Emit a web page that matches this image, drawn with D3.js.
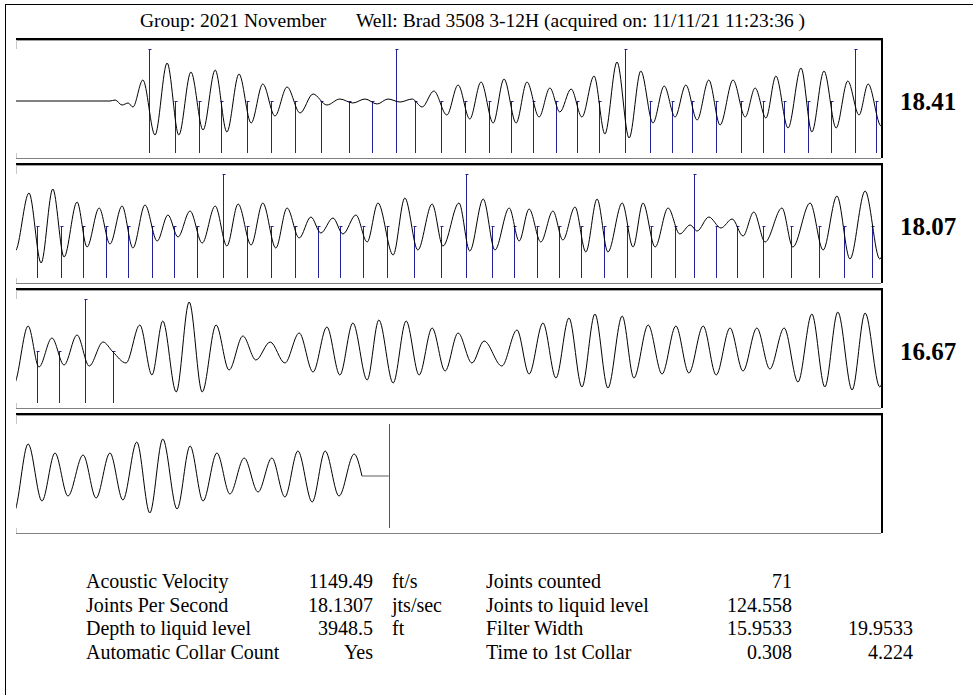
<!DOCTYPE html>
<html>
<head>
<meta charset="utf-8">
<script src="https://cdn.jsdelivr.net/npm/d3@7"></script>
<style>
  html, body { margin: 0; padding: 0; background: #fff; }
  svg { display: block; }
  text { font-family: "Liberation Serif", "Times New Roman", serif; fill: #000; }
</style>
</head>
<body>
<svg id="chart" width="973" height="695"></svg>
<script>
// ---------------- DATA ----------------
const titleGroup = "Group: 2021 November";
const titleWell = "Well: Brad 3508 3-12H (acquired on: 11/11/21 11:23:36 )";

// joints-per-second shown next to each 2-second panel
const panelRates = ["18.41", "18.07", "16.67", ""];
const panelStarts = [0, 2, 4, 6];          // seconds
const panelSpan = 2;                        // seconds per panel

// acoustic trace: extrema (time in s, amplitude in arbitrary units)
const waveT = [
  0.000, 0.217, 0.229, 0.245, 0.259, 0.270, 0.293, 0.321, 0.349, 0.376, 0.404, 0.432, 0.460, 0.487,
  0.515, 0.543, 0.570, 0.598, 0.626, 0.656, 0.686, 0.718, 0.748, 0.778, 0.806, 0.834, 0.859, 0.887,
  0.915, 0.938, 0.965, 0.995, 1.021, 1.048, 1.074, 1.102, 1.127, 1.155, 1.180, 1.208, 1.233, 1.256,
  1.282, 1.307, 1.335, 1.360, 1.388, 1.416, 1.443, 1.471, 1.497, 1.522, 1.547, 1.573, 1.600, 1.626,
  1.656, 1.684, 1.707, 1.732, 1.755, 1.783, 1.813, 1.838, 1.866, 1.894, 1.921, 1.947, 1.968, 1.998,
  2.030, 2.058, 2.085, 2.111, 2.141, 2.164, 2.192, 2.217, 2.245, 2.270, 2.298, 2.326, 2.351, 2.374,
  2.402, 2.430, 2.460, 2.487, 2.513, 2.543, 2.570, 2.600, 2.626, 2.654, 2.681, 2.704, 2.732, 2.755,
  2.785, 2.811, 2.836, 2.871, 2.898, 2.928, 2.961, 2.986, 3.023, 3.048, 3.079, 3.106, 3.139, 3.162,
  3.185, 3.212, 3.240, 3.263, 3.291, 3.316, 3.342, 3.367, 3.400, 3.425, 3.448, 3.476, 3.506, 3.533,
  3.557, 3.573, 3.600, 3.628, 3.654, 3.679, 3.704, 3.730, 3.769, 3.794, 3.834, 3.864, 3.896, 3.926,
  3.961, 3.995,
  4.028, 4.053, 4.083, 4.111, 4.141, 4.169, 4.201, 4.224, 4.254, 4.286, 4.314, 4.339, 4.370, 4.400,
  4.430, 4.462, 4.492, 4.524, 4.554, 4.587, 4.621, 4.654, 4.686, 4.718, 4.748, 4.778, 4.811, 4.838,
  4.871, 4.901, 4.931, 4.961, 4.991, 5.021, 5.053, 5.081, 5.122, 5.157, 5.185, 5.217, 5.247, 5.277,
  5.307, 5.337, 5.367, 5.400, 5.427, 5.460, 5.492, 5.524, 5.554, 5.587, 5.617, 5.649, 5.679, 5.711,
  5.741, 5.774, 5.806, 5.838, 5.868, 5.898, 5.931, 5.961, 5.995,
  6.028, 6.060, 6.090, 6.120, 6.155, 6.185, 6.217, 6.247, 6.279, 6.309, 6.339, 6.372, 6.402, 6.432,
  6.464, 6.494, 6.527, 6.559, 6.591, 6.621, 6.651, 6.684, 6.714, 6.746, 6.781, 6.799
];
const waveA = [
  0, 0, 1, -4, -2, -6, 21, -34, 38, -34, 29, -29, 31, -31,
  27, -22, 17, -15, 14, -12, 7, -4, 2, -2, 2, -3, 2, -1,
  2, -6, 10, -14, 16, -18, 19, -22, 22, -22, 19, -16, 13, -11,
  12, -16, 25, -33, 39, -37, 30, -22, 15, -16, 16, -19, 21, -24,
  21, -16, 13, -17, 25, -27, 33, -31, 30, -27, 20, -14, 17, -25,
  33, -37, 37, -31, 24, -21, 18, -18, 20, -22, 21, -15, 11, -11,
  15, -17, 20, -20, 22, -19, 23, -22, 18, -12, 9, -7, 8, -8,
  11, -16, 23, -29, 28, -24, 22, -20, 23, -25, 27, -24, 18, -15,
  17, -16, 15, -14, 19, -26, 27, -26, 23, -21, 23, -21, 18, -8,
  1, -5, 9, -2, 7, -10, 14, -16, 18, -21, 23, -24, 30, -33,
  35, -33,
  25, -16, 13, -14, 16, -15, 9, -1, -12, 26, -24, 30, -41, 49,
  -41, 26, -19, 15, -9, 9, -12, 18, -21, 24, -24, 28, -29, 31,
  -32, 30, -24, 23, -20, 18, -12, 10, -15, 21, -23, 28, -27, 33,
  -36, 37, -37, 35, -27, 26, -23, 25, -22, 25, -24, 23, -20, 23,
  -18, 23, -31, 37, -36, 39, -39, 38, -36,
  32, -25, 23, -20, 21, -22, 23, -24, 34, -37, 37, -33, 30, -25,
  23, -18, 18, -16, 18, -21, 25, -26, 25, -20, 22, 0
];
// fluid level reflection time (s)
const liquidLevelTime = 6.861;

// collar (joint) detections, seconds
const collarTimes = [
  0.308, 0.367, 0.423, 0.473, 0.533, 0.589, 0.644, 0.704, 0.769, 0.822,
  0.878, 0.921, 0.982, 1.037, 1.092, 1.143, 1.194, 1.247, 1.296, 1.346,
  1.406, 1.464, 1.515, 1.561, 1.617, 1.674, 1.725, 1.774, 1.829, 1.882,
  1.938, 1.986, 2.048, 2.104, 2.155, 2.208, 2.259, 2.314, 2.365, 2.418,
  2.478, 2.533, 2.589, 2.644, 2.697, 2.748, 2.801, 2.857, 2.919, 2.982,
  3.039, 3.099, 3.150, 3.203, 3.254, 3.305, 3.358, 3.411, 3.467, 3.522,
  3.566, 3.617, 3.665, 3.725, 3.790, 3.855, 3.912, 3.977, 4.048, 4.099,
  4.159, 4.224
];

// summary table
const tableLabels1 = ["Acoustic Velocity", "Joints Per Second", "Depth to liquid level", "Automatic Collar Count"];
const tableValues1 = ["1149.49", "18.1307", "3948.5", "Yes"];
const tableUnits1  = ["ft/s", "jts/sec", "ft", ""];
const tableLabels2 = ["Joints counted", "Joints to liquid level", "Filter Width", "Time to 1st Collar"];
const tableValues2 = ["71", "124.558", "15.9533", "0.308"];
const tableValues3 = ["", "", "19.9533", "4.224"];

// ---------------- DRAW ----------------
const svg = d3.select("#chart");
const W = 973, H = 695;
const plotLeft = 16, plotRight = 882;
const panelTop0 = 39, panelStep = 125, panelH = 120;

// outer frame (left & top edges visible)
svg.append("line").attr("x1", 5.5).attr("y1", 4.5).attr("x2", 5.5).attr("y2", H)
  .attr("stroke", "#000").attr("stroke-width", 1);
svg.append("line").attr("x1", 5).attr("y1", 4.5).attr("x2", W).attr("y2", 4.5)
  .attr("stroke", "#000").attr("stroke-width", 1);

// title
svg.append("text").attr("x", 140).attr("y", 27).attr("font-size", 19.5).text(titleGroup);
svg.append("text").attr("x", 356).attr("y", 27).attr("font-size", 19.5).text(titleWell);

const wave = waveT.map((t, i) => ({ t, a: waveA[i] }));
const defs = svg.append("defs");

panelStarts.forEach((t0, k) => {
  const top = panelTop0 + k * panelStep;
  const x = d3.scaleLinear().domain([t0, t0 + panelSpan]).range([plotLeft, plotRight]);
  const y = d3.scaleLinear().domain([-52, 52]).range([top + 114, top + 10]);
  const g = svg.append("g");

  // frame
  g.append("rect").attr("x", plotLeft).attr("y", top - 1).attr("width", plotRight - plotLeft + 1).attr("height", 2).attr("fill", "#000");
  g.append("line").attr("x1", plotLeft).attr("x2", plotRight).attr("y1", top + 1.5).attr("y2", top + 1.5).attr("stroke", "#a0a0a0");
  g.append("rect").attr("x", plotRight - 1).attr("y", top - 1).attr("width", 2).attr("height", panelH).attr("fill", "#000");
  g.append("line").attr("x1", plotLeft).attr("x2", plotRight - 1).attr("y1", top + panelH - 0.5).attr("y2", top + panelH - 0.5).attr("stroke", "#808080");
  g.append("line").attr("x1", plotLeft + 0.5).attr("x2", plotLeft + 0.5).attr("y1", top + 1).attr("y2", top + 10).attr("stroke", "#c8c8c8");
  g.append("line").attr("x1", plotLeft + 0.5).attr("x2", plotLeft + 0.5).attr("y1", top + 114).attr("y2", top + panelH - 1).attr("stroke", "#c8c8c8");

  // clip
  const cid = "clip" + k;
  defs.append("clipPath").attr("id", cid).append("rect")
    .attr("x", plotLeft).attr("y", top + 2).attr("width", plotRight - plotLeft - 1).attr("height", panelH - 3);

  // collars
  const cg = g.append("g").attr("clip-path", `url(#${cid})`);
  collarTimes.forEach((c, i) => {
    if (c < t0 || c >= t0 + panelSpan) return;
    const cx = Math.round(x(c)) + 0.5;
    const tall = i % 10 === 0;
    const y1 = tall ? y(52) : y(0);
    cg.append("line").attr("x1", cx).attr("x2", cx).attr("y1", y1).attr("y2", y(-52))
      .attr("stroke", "#22229a").attr("stroke-width", 1);
    cg.append("line").attr("x1", cx - 1).attr("x2", cx + 2).attr("y1", y1 + 0.5).attr("y2", y1 + 0.5)
      .attr("stroke", "#22229a").attr("stroke-width", 1);
  });

  // waveform
  const pts = wave.filter(d => d.t >= t0 - 0.08 && d.t <= t0 + panelSpan + 0.08);
  if (pts.length) {
    const line = d3.line().x(d => x(d.t)).y(d => y(d.a)).curve(d3.curveMonotoneX);
    cg.append("path").datum(pts).attr("d", line).attr("fill", "none")
      .attr("stroke", "#000").attr("stroke-width", 1);
  }

  // liquid level marker
  if (liquidLevelTime >= t0 && liquidLevelTime < t0 + panelSpan) {
    const last = wave[wave.length - 1];
    cg.append("line").attr("x1", x(last.t)).attr("x2", x(liquidLevelTime)).attr("y1", y(0)).attr("y2", y(0))
      .attr("stroke", "#777").attr("stroke-width", 1.2);
    const lx = Math.round(x(liquidLevelTime)) + 0.5;
    cg.append("line").attr("x1", lx).attr("x2", lx).attr("y1", y(52)).attr("y2", y(-52))
      .attr("stroke", "#555").attr("stroke-width", 1);
  }

  // rate label
  if (panelRates[k]) {
    svg.append("text").attr("x", 900).attr("y", top + 71).attr("font-size", 25).attr("font-weight", "bold")
      .text(panelRates[k]);
  }
});

// summary table
const rowY = d => 588 + d * 23.7;
const fs = 20;
tableLabels1.forEach((s, i) => {
  svg.append("text").attr("x", 86).attr("y", rowY(i)).attr("font-size", fs).text(s);
  svg.append("text").attr("x", 373).attr("y", rowY(i)).attr("font-size", fs).attr("text-anchor", "end").text(tableValues1[i]);
  svg.append("text").attr("x", 392).attr("y", rowY(i)).attr("font-size", fs).text(tableUnits1[i]);
  svg.append("text").attr("x", 486).attr("y", rowY(i)).attr("font-size", fs).text(tableLabels2[i]);
  svg.append("text").attr("x", 792).attr("y", rowY(i)).attr("font-size", fs).attr("text-anchor", "end").text(tableValues2[i]);
  svg.append("text").attr("x", 913).attr("y", rowY(i)).attr("font-size", fs).attr("text-anchor", "end").text(tableValues3[i]);
});
</script>
</body>
</html>
